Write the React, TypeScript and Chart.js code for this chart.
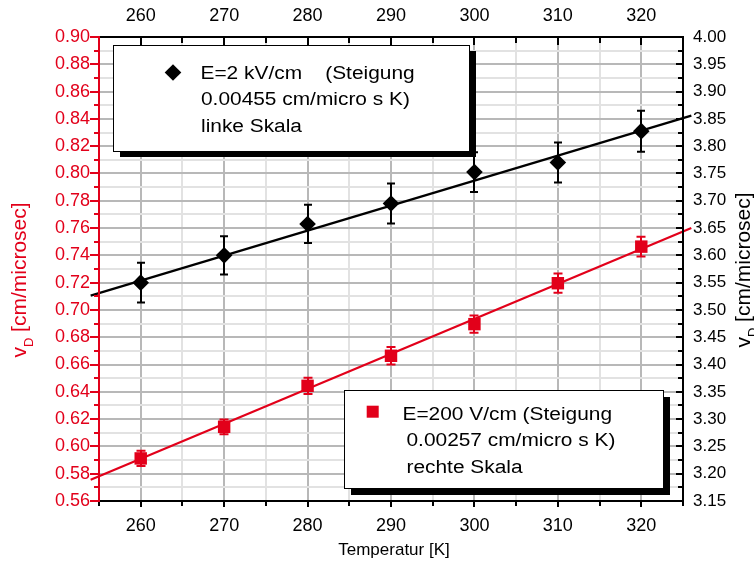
import React, { useEffect, useRef } from 'react';
import { Chart, registerables } from 'chart.js';

Chart.register(...registerables);

// ---- data ----
const temperatures = [260, 270, 280, 290, 300, 310, 320];
const vLeft = [0.72, 0.74, 0.763, 0.778, 0.801, 0.808, 0.831];
const vLeftErr = [0.0145, 0.014, 0.014, 0.0146, 0.0146, 0.0147, 0.015];
const vRight = [3.228, 3.286, 3.361, 3.416, 3.474, 3.549, 3.616];
const vRightErr = [0.014, 0.0135, 0.015, 0.016, 0.016, 0.0176, 0.018];
const fitT = [254, 326];
const fitLeft = [0.7105, 0.8424];
const fitRight = [3.189, 3.65];

const tempTicks = [260, 270, 280, 290, 300, 310, 320];
const leftTicks = [0.56, 0.58, 0.6, 0.62, 0.64, 0.66, 0.68, 0.7, 0.72, 0.74, 0.76, 0.78, 0.8, 0.82, 0.84, 0.86, 0.88, 0.9];
const rightTicks = [3.15, 3.2, 3.25, 3.3, 3.35, 3.4, 3.45, 3.5, 3.55, 3.6, 3.65, 3.7, 3.75, 3.8, 3.85, 3.9, 3.95, 4.0];

const legend1Lines = ['E=2 kV/cm    (Steigung', '0.00455 cm/micro s K)', 'linke Skala'];
const legend2Lines = ['E=200 V/cm (Steigung', '0.00257 cm/micro s K)', 'rechte Skala'];
const xTitle = 'Temperatur [K]';

const T_MIN = 255, T_MAX = 325;
const L_MIN = 0.56, L_MAX = 0.9;
const R_MIN = 3.15, R_MAX = 4.0;

const RED = '#e2001a';
const FONT = '"Liberation Sans", Arial, Helvetica, sans-serif';

function withMinor(majors: number[], lo: number, hi: number): number[] {
  const step = majors[1] - majors[0];
  const out: number[] = [];
  const cand = [majors[0] - step / 2];
  majors.forEach((m) => { cand.push(m); cand.push(m + step / 2); });
  cand.forEach((v) => { if (v >= lo - 1e-9 && v <= hi + 1e-9) out.push(+v.toFixed(6)); });
  return out;
}
const isIn = (arr: number[], v: number) => arr.some((a) => Math.abs(a - v) < 1e-7);

const tAll = withMinor(tempTicks, T_MIN, T_MAX);
const lAll = withMinor(leftTicks, L_MIN, L_MAX);
const rAll = withMinor(rightTicks, R_MIN, R_MAX);

function stretched(ctx: CanvasRenderingContext2D, text: string, x: number, y: number, sx: number) {
  ctx.save();
  ctx.translate(x, y);
  ctx.scale(sx, 1);
  ctx.fillText(text, 0, 0);
  ctx.restore();
}

function drawBox(ctx: CanvasRenderingContext2D, x: number, y: number, w: number, h: number, dx: number, dy: number) {
  ctx.save();
  ctx.fillStyle = '#000';
  ctx.fillRect(x + dx, y + dy, w, h);
  ctx.fillStyle = '#fff';
  ctx.fillRect(x, y, w, h);
  ctx.strokeStyle = '#000';
  ctx.lineWidth = 1;
  ctx.strokeRect(x + 0.5, y + 0.5, w, h);
  ctx.restore();
}

function drawVTitle(ctx: CanvasRenderingContext2D, cx: number, cy: number, color: string) {
  ctx.save();
  ctx.translate(cx, cy);
  ctx.rotate(-Math.PI / 2);
  ctx.fillStyle = color;
  ctx.textBaseline = 'alphabetic';
  ctx.textAlign = 'left';
  const main = `21px ${FONT}`;
  const sub = `13px ${FONT}`;
  ctx.font = main;
  const wv = ctx.measureText('v').width;
  const wr = ctx.measureText(' [cm/microsec]').width;
  ctx.font = sub;
  const wd = ctx.measureText('D').width;
  let x = -(wv + wd + wr) / 2;
  ctx.font = main;
  ctx.fillText('v', x, 0);
  x += wv;
  ctx.font = sub;
  ctx.fillText('D', x, 7);
  x += wd;
  ctx.font = main;
  ctx.fillText(' [cm/microsec]', x, 0);
  ctx.restore();
}

const framePlugin = {
  id: 'frame',
  beforeDatasetsDraw(chart: any) {
    const ctx: CanvasRenderingContext2D = chart.ctx;
    // legend 1
    drawBox(ctx, 113, 45, 356, 106, 7, 6);
    ctx.save();
    ctx.fillStyle = '#000';
    ctx.beginPath();
    const dx = 173, dy = 72.5, r = 8.3;
    ctx.moveTo(dx, dy - r); ctx.lineTo(dx + r, dy); ctx.lineTo(dx, dy + r); ctx.lineTo(dx - r, dy); ctx.closePath();
    ctx.fill();
    ctx.font = `18px ${FONT}`;
    ctx.textBaseline = 'alphabetic';
    ctx.textAlign = 'left';
    stretched(ctx, legend1Lines[0], 200.5, 79, 1.16);
    stretched(ctx, legend1Lines[1], 201, 105, 1.16);
    stretched(ctx, legend1Lines[2], 201, 131.5, 1.16);
    ctx.restore();
    // legend 2
    drawBox(ctx, 344, 390, 319, 98, 7, 7);
    ctx.save();
    ctx.fillStyle = RED;
    ctx.fillRect(366.7, 405.7, 12, 12);
    ctx.fillStyle = '#000';
    ctx.font = `18px ${FONT}`;
    ctx.textBaseline = 'alphabetic';
    ctx.textAlign = 'left';
    stretched(ctx, legend2Lines[0], 402.5, 419.5, 1.16);
    stretched(ctx, legend2Lines[1], 406.5, 446, 1.16);
    stretched(ctx, legend2Lines[2], 406.5, 473, 1.16);
    ctx.restore();
  },
  afterDatasetsDraw(chart: any) {
    const ctx: CanvasRenderingContext2D = chart.ctx;
    const xs = chart.scales.x;
    const ys = chart.scales.y;
    const y2 = chart.scales.y2;
    // error bars
    const bars = (vals: number[], errs: number[], sc: any, color: string, cap: number) => {
      ctx.save();
      ctx.strokeStyle = color;
      ctx.lineWidth = 2;
      temperatures.forEach((t, i) => {
        const px = Math.round(xs.getPixelForValue(t));
        const top = sc.getPixelForValue(vals[i] + errs[i]);
        const bot = sc.getPixelForValue(vals[i] - errs[i]);
        ctx.beginPath();
        ctx.moveTo(px, top); ctx.lineTo(px, bot);
        ctx.moveTo(px - cap, top); ctx.lineTo(px + cap, top);
        ctx.moveTo(px - cap, bot); ctx.lineTo(px + cap, bot);
        ctx.stroke();
      });
      ctx.restore();
    };
    bars(vLeft, vLeftErr, ys, '#000', 4);
    bars(vRight, vRightErr, y2, RED, 4.5);

    // axes frame + tick marks
    const { left, right, top, bottom } = chart.chartArea;
    const seg = (x1: number, y1: number, x2: number, yb: number) => {
      ctx.beginPath(); ctx.moveTo(x1, y1); ctx.lineTo(x2, yb); ctx.stroke();
    };
    ctx.save();
    ctx.lineWidth = 2;
    ctx.lineCap = 'butt';
    ctx.strokeStyle = '#000';
    // top axis
    seg(left, top, right + 1, top);
    tAll.forEach((v) => {
      const px = Math.round(xs.getPixelForValue(v));
      const len = isIn(tempTicks, v) ? 8 : 6;
      seg(px, top, px, top + len);
    });
    // bottom axis
    seg(left, bottom, right + 1, bottom);
    tAll.forEach((v) => {
      const px = Math.round(xs.getPixelForValue(v));
      const len = isIn(tempTicks, v) ? 6 : 5;
      seg(px, bottom, px, bottom + len);
    });
    // right axis
    seg(right, top - 1, right, bottom + 1);
    rAll.forEach((v) => {
      const py = Math.round(y2.getPixelForValue(v));
      const len = isIn(rightTicks, v) ? 7 : 5;
      seg(right - len, py, right, py);
    });
    // left axis (red)
    ctx.strokeStyle = RED;
    seg(left, top - 1, left, bottom + 1);
    lAll.forEach((v) => {
      const py = Math.round(ys.getPixelForValue(v));
      const len = isIn(leftTicks, v) ? 9 : 5;
      seg(left - len, py, left, py);
    });
    ctx.restore();

    // axis titles
    drawVTitle(ctx, 26, 280, RED);
    drawVTitle(ctx, 750, 270, '#000');
    ctx.save();
    ctx.fillStyle = '#000';
    ctx.font = `17px ${FONT}`;
    ctx.textAlign = 'center';
    ctx.textBaseline = 'alphabetic';
    ctx.fillText(xTitle, 394, 555);
    ctx.restore();
  },
};

export default function App() {
  const ref = useRef<HTMLCanvasElement>(null);

  useEffect(() => {
    const canvas = ref.current;
    if (!canvas) return;
    const tickFont = (size: number) => ({ family: FONT, size });
    const chart = new Chart(canvas, {
      type: 'scatter',
      data: {
        datasets: [
          {
            label: 'E=2 kV/cm',
            data: temperatures.map((t, i) => ({ x: t, y: vLeft[i] })),
            xAxisID: 'x',
            yAxisID: 'y',
            showLine: false,
            pointStyle: 'rectRot',
            pointRadius: 8.3,
            backgroundColor: '#000',
            borderColor: '#000',
            borderWidth: 0,
            order: 0,
          },
          {
            label: 'E=200 V/cm',
            data: temperatures.map((t, i) => ({ x: t, y: vRight[i] })),
            xAxisID: 'x',
            yAxisID: 'y2',
            showLine: false,
            pointStyle: 'rect',
            pointRadius: 8.8,
            backgroundColor: RED,
            borderColor: RED,
            borderWidth: 0,
            order: 0,
          },
          {
            label: 'fit left',
            data: fitT.map((t, i) => ({ x: t, y: fitLeft[i] })),
            xAxisID: 'x',
            yAxisID: 'y',
            showLine: true,
            pointRadius: 0,
            borderColor: '#000',
            borderWidth: 2.2,
            clip: false,
            order: 1,
          },
          {
            label: 'fit right',
            data: fitT.map((t, i) => ({ x: t, y: fitRight[i] })),
            xAxisID: 'x',
            yAxisID: 'y2',
            showLine: true,
            pointRadius: 0,
            borderColor: RED,
            borderWidth: 2.2,
            clip: false,
            order: 1,
          },
        ],
      },
      options: {
        responsive: false,
        animation: false,
        devicePixelRatio: 1,
        events: [],
        layout: { padding: 0 },
        plugins: {
          legend: { display: false },
          tooltip: { enabled: false },
          title: { display: false },
        },
        scales: {
          x: {
            type: 'linear',
            position: 'bottom',
            min: T_MIN,
            max: T_MAX,
            afterBuildTicks: (s: any) => { s.ticks = tAll.map((v) => ({ value: v })); },
            afterFit: (s: any) => { s.height = 60; },
            ticks: {
              autoSkip: false,
              maxRotation: 0,
              padding: 14,
              color: '#000',
              font: tickFont(18),
              callback: (v: any) => (isIn(tempTicks, Number(v)) ? String(v) : ''),
            },
            grid: {
              drawTicks: false,
              color: (c: any) => (isIn(tempTicks, c.tick?.value) ? '#b8b8b8' : '#e2e2e2'),
              lineWidth: 2,
            },
            border: { display: false },
          },
          x2: {
            type: 'linear',
            position: 'top',
            min: T_MIN,
            max: T_MAX,
            afterBuildTicks: (s: any) => { s.ticks = tAll.map((v) => ({ value: v })); },
            afterFit: (s: any) => { s.height = 37; },
            ticks: {
              autoSkip: false,
              maxRotation: 0,
              padding: 10,
              color: '#000',
              font: tickFont(18),
              callback: (v: any) => (isIn(tempTicks, Number(v)) ? String(v) : ''),
            },
            grid: { display: false, drawTicks: false },
            border: { display: false },
          },
          y: {
            type: 'linear',
            position: 'left',
            min: L_MIN,
            max: L_MAX,
            afterBuildTicks: (s: any) => { s.ticks = lAll.map((v) => ({ value: v })); },
            afterFit: (s: any) => { s.width = 99; },
            ticks: {
              autoSkip: false,
              padding: 9,
              color: RED,
              font: tickFont(18),
              callback: (v: any) => (isIn(leftTicks, Number(v)) ? Number(v).toFixed(2) : ''),
            },
            grid: {
              drawTicks: false,
              color: (c: any) => (isIn(leftTicks, c.tick?.value) ? '#b8b8b8' : '#e2e2e2'),
              lineWidth: 2,
            },
            border: { display: false },
          },
          y2: {
            type: 'linear',
            position: 'right',
            min: R_MIN,
            max: R_MAX,
            afterBuildTicks: (s: any) => { s.ticks = rAll.map((v) => ({ value: v })); },
            afterFit: (s: any) => { s.width = 71; },
            ticks: {
              autoSkip: false,
              padding: 10,
              color: '#000',
              font: tickFont(17),
              callback: (v: any) => (isIn(rightTicks, Number(v)) ? Number(v).toFixed(2) : ''),
            },
            grid: { display: false, drawTicks: false },
            border: { display: false },
          },
        },
      },
      plugins: [framePlugin],
    } as any);
    return () => chart.destroy();
  }, []);

  return (
    <canvas
      ref={ref}
      width={754}
      height={561}
      style={{ position: 'absolute', left: 0, top: 0, width: 754, height: 561, display: 'block' }}
    />
  );
}
